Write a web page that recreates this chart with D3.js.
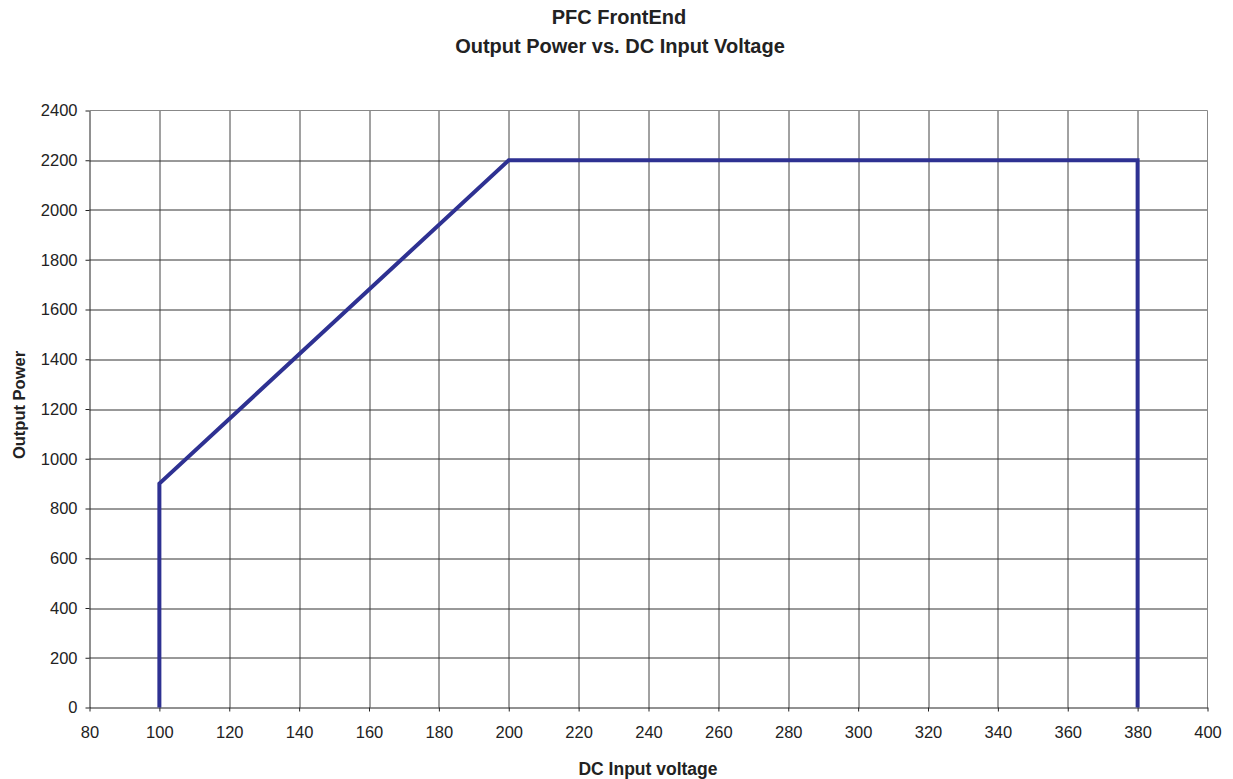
<!DOCTYPE html>
<html>
<head>
<meta charset="utf-8">
<script src="https://cdn.jsdelivr.net/npm/d3@7"></script>
<style>
body { margin: 0; background: #fff; }
text { font-family: "Liberation Sans", Arial, sans-serif; fill: #222; }
</style>
</head>
<body>
<div id="chart"></div>
<script>
// data
var voltage = [100, 100, 200, 380, 380];
var power = [0, 900, 2200, 2200, 0];
var xTicks = [80, 100, 120, 140, 160, 180, 200, 220, 240, 260, 280, 300, 320, 340, 360, 380, 400];
var yTicks = [0, 200, 400, 600, 800, 1000, 1200, 1400, 1600, 1800, 2000, 2200, 2400];

var W = 1233, H = 779;
var margin = { top: 110.5, right: 25.5, bottom: 71.5, left: 89.5 };
var width = W - margin.left - margin.right,
    height = H - margin.top - margin.bottom;

var svg = d3.select("#chart").append("svg")
    .attr("width", W).attr("height", H);

var g = svg.append("g")
    .attr("transform", "translate(" + margin.left + "," + margin.top + ")");

var x = d3.scaleLinear().domain([80, 400]).range([0, width]);
var y = d3.scaleLinear().domain([0, 2400]).range([height, 0]);

// grid
g.selectAll(".vgrid").data(xTicks.slice(1, -1)).enter().append("line")
    .attr("x1", function(d) { return Math.round(x(d)) + 0.5; })
    .attr("x2", function(d) { return Math.round(x(d)) + 0.5; })
    .attr("y1", 0).attr("y2", height)
    .attr("stroke", "#444").attr("stroke-width", 1);
g.selectAll(".hgrid").data(yTicks.slice(1, -1)).enter().append("line")
    .attr("y1", function(d) { return Math.round(y(d)) + 0.5; })
    .attr("y2", function(d) { return Math.round(y(d)) + 0.5; })
    .attr("x1", 0).attr("x2", width)
    .attr("stroke", "#333").attr("stroke-width", 1);

// top and right border (gray)
g.append("line").attr("x1", 0).attr("x2", width).attr("y1", 0).attr("y2", 0)
    .attr("stroke", "#888");
g.append("line").attr("x1", width).attr("x2", width).attr("y1", 0).attr("y2", height)
    .attr("stroke", "#888");

// axes
var xAxis = g.append("g")
    .attr("transform", "translate(0," + height + ")")
    .call(d3.axisBottom(x).tickValues(xTicks).tickFormat(d3.format("d"))
      .tickSize(4).tickSizeOuter(0).tickPadding(15));
var yAxis = g.append("g")
    .call(d3.axisLeft(y).tickValues(yTicks).tickFormat(d3.format("d"))
      .tickSize(4).tickSizeOuter(0).tickPadding(8));
[xAxis, yAxis].forEach(function(a) {
  a.select(".domain").attr("stroke", "#222");
  a.selectAll(".tick line").attr("stroke", "#222");
  a.selectAll("text").style("font-size", "16.5px").style("fill", "#222");
});

// line
var pts = voltage.map(function(v, i) { return [v, power[i]]; });
g.append("path")
    .datum(pts)
    .attr("fill", "none")
    .attr("stroke", "#2e3192")
    .attr("stroke-width", 4)
    .attr("stroke-linejoin", "miter")
    .attr("d", d3.line().x(function(d) { return x(d[0]); }).y(function(d) { return y(d[1]); }));

// titles
function label(t, xx, yy, size) {
  return svg.append("text").attr("x", xx).attr("y", yy).attr("text-anchor", "middle")
    .style("font-size", size).style("font-weight", "bold").text(t);
}
label("PFC FrontEnd", 619, 24, "20px");
label("Output Power vs. DC Input Voltage", 620, 53, "20px");
label("DC Input voltage", 648, 775, "17.5px");
label("Output Power", 0, 0, "16.5px")
    .attr("transform", "translate(25,405) rotate(-90)");
</script>
</body>
</html>
